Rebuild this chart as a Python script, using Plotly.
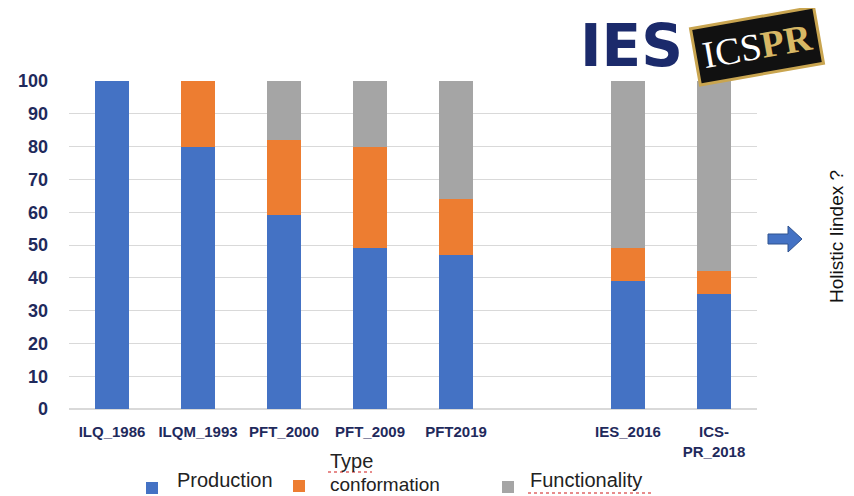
import plotly.graph_objects as go

categories = ["ILQ_1986", "ILQM_1993", "PFT_2000", "PFT_2009", "PFT2019", " ", "IES_2016", "ICS-<br>PR_2018"]
production = [100, 80, 59, 49, 47, None, 39, 35]
conformation = [0, 20, 23, 31, 17, None, 10, 7]
functionality = [0, 0, 18, 20, 36, None, 51, 58]
series_names = ["Production", "Type conformation", "Functionality"]
colors = ["#4472C4", "#ED7D31", "#A5A5A5"]
y_ticks = [0, 10, 20, 30, 40, 50, 60, 70, 80, 90, 100]

fig = go.Figure()
for name, vals, col in zip(series_names, [production, conformation, functionality], colors):
    fig.add_trace(go.Bar(x=categories, y=vals, name=name, marker_color=col,
                         marker_line_width=0, width=0.4, showlegend=False))

# page body has an 8px margin -> figure sits at (8, 8)
OFF = 8
PL, PT, PW, PH = 69, 81, 688, 328   # plot area in screen pixels
W, H = 854 - OFF, 496 - OFF
L, T = PL - OFF, PT - OFF
R, B = W - L - PW, H - T - PH

def px(x):
    return (x - PL) / PW

def py(y):
    return (PT + PH - y) / PH

navy = "#1F2A5C"
sans = "Liberation Sans, Arial, sans-serif"
fig.update_layout(
    width=W, height=H,
    margin=dict(l=L, r=R, t=T, b=B, autoexpand=False),
    barmode="stack",
    plot_bgcolor="white", paper_bgcolor="white",
    showlegend=False,
    xaxis=dict(type="category", showgrid=False, showline=False, ticks="", automargin=False,
               tickfont=dict(family=sans, size=15, color=navy, weight="bold"),
               ticklabelstandoff=12),
    yaxis=dict(range=[0, 100], tickvals=y_ticks, showgrid=True, gridcolor="#D9D9D9", gridwidth=1,
               zeroline=True, zerolinecolor="#D9D9D9", showline=False, ticks="", automargin=False,
               tickfont=dict(family=sans, size=18, color=navy, weight="bold"),
               ticklabelstandoff=20),
    bargap=0.6,
)

def note(text, x, y, size, color="#222222", xanchor="center", **kw):
    fig.add_annotation(text=text, x=px(x), y=py(y), xref="paper", yref="paper",
                       xanchor=xanchor, yanchor="middle", showarrow=False,
                       font=dict(family=kw.pop("family", sans), size=size, color=color), **kw)

# Manual legend (squares + labels)
squares = [(146, 488), (293, 486), (502, 487)]
for (sx, sy), col in zip(squares, colors):
    fig.add_shape(type="rect", xref="paper", yref="paper",
                  x0=px(sx), x1=px(sx + 12), y0=py(sy + 6), y1=py(sy - 6),
                  fillcolor=col, line=dict(width=0))
note("Production", 175, 480, 20, xanchor="left")
note("Type", 328, 461, 20, xanchor="left")
note("conformation", 328, 484, 19, xanchor="left")
note("Functionality", 528, 480, 20, xanchor="left")
# spell-check squiggles
for x0, x1, yy in [(328, 372, 472), (528, 652, 493)]:
    fig.add_shape(type="line", xref="paper", yref="paper", x0=px(x0), x1=px(x1), y0=py(yy), y1=py(yy),
                  line=dict(color="#E06666", width=1.5, dash="dot"))
fig.add_shape(type="line", xref="paper", yref="paper", x0=px(847), x1=px(847), y0=py(190), y1=py(234),
              line=dict(color="#E06666", width=1.5, dash="dot"))

# Arrow to the right
path = (f"M {px(768)},{py(234)} L {px(788)},{py(234)} L {px(788)},{py(226)} L {px(802)},{py(239)} "
        f"L {px(788)},{py(252)} L {px(788)},{py(244)} L {px(768)},{py(244)} Z")
fig.add_shape(type="path", path=path, xref="paper", yref="paper", fillcolor="#4472C4",
              line=dict(color="#2F528F", width=1))

note("Holistic Iindex ?", 836, 237, 19, color="#111111", textangle=-90)

# Logos (as text)
note("<b>IES</b>", 631, 46, 58, color="#1B2A6B", family="DejaVu Sans, sans-serif")
note("ICS<b><span style='color:#D8B865'>PR</span></b>", 757, 46, 38, color="white",
     family="Liberation Serif, serif", textangle=-10,
     bgcolor="#111111", bordercolor="#C9A550", borderwidth=3, borderpad=6)

fig.write_html("out.html")
